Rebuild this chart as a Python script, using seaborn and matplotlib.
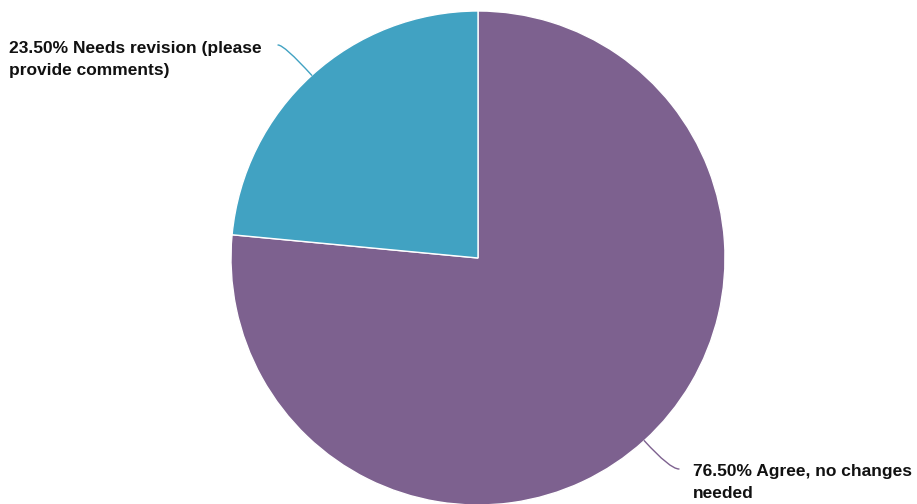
import numpy as np
import matplotlib
matplotlib.use("Agg")
import matplotlib.pyplot as plt
import seaborn as sns

# survey answers, drawn clockwise from 12 o'clock
answers = ["Agree, no changes\nneeded", "Needs revision (please\nprovide comments)"]
shares = [76.5, 23.5]
colors = ["#7d618f", "#41a2c2"]

sns.set_theme(style="white")
plt.rcParams['font.family'] = ['Liberation Sans', 'DejaVu Sans']

fig = plt.figure(figsize=(9.17, 5.04), dpi=100)
ax = fig.add_axes([0, 0, 1, 1])

cx, cy, r = 478, 246, 247
wedges, _ = ax.pie(shares, colors=colors, startangle=90, counterclock=False,
                   center=(cx, cy), radius=r, frame=True,
                   wedgeprops=dict(edgecolor="white", linewidth=1))
ax.set_xlim(0, 917)
ax.set_ylim(0, 504)
ax.set_aspect("equal")
ax.axis("off")

# label placement: (text x, text top y, leader end x, leader end y)
label_pos = [(693, 40, 679, 35), (9, 463, 278, 459)]

for w, share, name, (tx, ty, ex, ey) in zip(wedges, shares, answers, label_pos):
    mid_deg = (w.theta1 + w.theta2) / 2
    mid = np.deg2rad(mid_deg)
    px, py = cx + r * np.cos(mid), cy + r * np.sin(mid)
    ax.annotate("", xy=(px, py), xytext=(ex, ey),
                arrowprops=dict(arrowstyle="-", color=w.get_facecolor(), lw=1,
                                shrinkA=0, shrinkB=0,
                                connectionstyle=f"angle3,angleA=0,angleB={mid_deg:.1f}"))
    ax.text(tx, ty, f"{share:.2f}% {name}", fontsize=12.5, fontweight="bold",
            color="#111111", ha="left", va="top", linespacing=1.6)

fig.savefig("out.png", dpi=100)
